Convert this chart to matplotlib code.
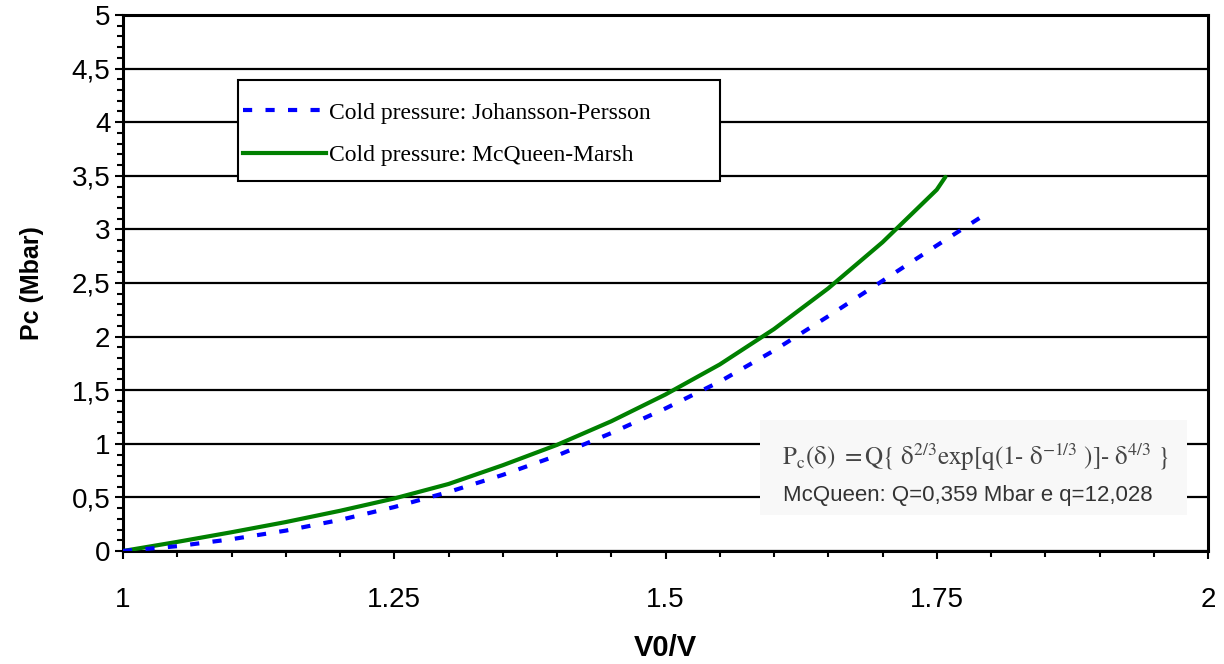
import matplotlib
matplotlib.use("Agg")
import matplotlib.pyplot as plt
from matplotlib.patches import Rectangle
from matplotlib.lines import Line2D
from matplotlib.ticker import MultipleLocator

# ---- data ----
x_mm = [1.0, 1.05, 1.10, 1.15, 1.20, 1.25, 1.30, 1.35, 1.40, 1.45, 1.50, 1.55, 1.60, 1.65, 1.70, 1.75, 1.758]
y_mm = [0.0, 0.085, 0.175, 0.27, 0.375, 0.49, 0.625, 0.80, 0.99, 1.21, 1.46, 1.74, 2.07, 2.45, 2.88, 3.37, 3.49]

x_jp = [1.0, 1.05, 1.10, 1.15, 1.20, 1.25, 1.30, 1.35, 1.40, 1.45, 1.50, 1.55, 1.60, 1.65, 1.70, 1.75, 1.79]
y_jp = [0.0, 0.045, 0.11, 0.19, 0.29, 0.41, 0.55, 0.71, 0.89, 1.10, 1.33, 1.58, 1.87, 2.19, 2.52, 2.85, 3.11]

x_ticks = [1.0, 1.25, 1.5, 1.75, 2.0]
x_ticklabels = ["1", "1.25", "1.5", "1.75", "2"]
y_ticks = [0, 0.5, 1, 1.5, 2, 2.5, 3, 3.5, 4, 4.5, 5]
y_ticklabels = ["0", "0,5", "1", "1,5", "2", "2,5", "3", "3,5", "4", "4,5", "5"]

label_jp = "Cold pressure: Johansson-Persson"
label_mm = "Cold pressure: McQueen-Marsh"

W, H = 1224, 664
L, R, T, B = 123, 1208, 15, 551

fig = plt.figure(figsize=(W / 100, H / 100), dpi=100)
ax = fig.add_axes([L / W, 1 - B / H, (R - L) / W, (B - T) / H])

ax.set_xlim(1, 2)
ax.set_ylim(0, 5)

for yv in y_ticks:
    ax.axhline(yv, color="black", lw=1.6, zorder=1)

DASH = (0, (2.2, 3.2))
ax.plot(x_mm, y_mm, color="#008000", lw=3, zorder=3, solid_capstyle="round",
        solid_joinstyle="round")
ax.plot(x_jp, y_jp, color="#0000ff", lw=3, zorder=3, linestyle=DASH)

ax.set_xticks(x_ticks)
ax.set_xticklabels(x_ticklabels, fontsize=20, fontfamily="Liberation Sans")
ax.set_yticks(y_ticks)
ax.set_yticklabels(y_ticklabels, fontsize=20, fontfamily="Liberation Sans")
ax.xaxis.set_minor_locator(MultipleLocator(0.05))
ax.yaxis.set_minor_locator(MultipleLocator(0.1))
ax.tick_params(axis="both", which="major", direction="out", length=6, width=1.5, colors="black")
ax.tick_params(axis="both", which="minor", direction="out", length=4, width=1.5)
ax.tick_params(axis="x", which="major", pad=20)
ax.tick_params(axis="y", which="major", pad=3)

for s in ax.spines.values():
    s.set_linewidth(2.2)
    s.set_color("black")

ax.set_xlabel("V0/V", fontsize=21, fontweight="bold", fontfamily="Liberation Sans", labelpad=15)
ax.set_ylabel("Pc (Mbar)", fontsize=18, fontweight="bold", fontfamily="Liberation Sans", labelpad=20)


def px2ax(px, py):
    return ((px - L) / (R - L), (B - py) / (B - T))


# legend box
x0, y1 = px2ax(238, 80)
x1, y0 = px2ax(720, 181)
ax.add_patch(Rectangle((x0, y0), x1 - x0, y1 - y0, transform=ax.transAxes,
                       facecolor="white", edgecolor="black", lw=1.5, zorder=4))
handles = [Line2D([], [], color="#0000ff", lw=3, linestyle=DASH),
           Line2D([], [], color="#008000", lw=3)]
leg_fs = 17
bp = 0.94
bp_px = bp * leg_fs * 100 / 72
hx, hy = px2ax(243 - bp_px, 80)
leg = ax.legend(handles, [label_jp, label_mm], loc="upper left",
                bbox_to_anchor=(hx, hy), frameon=False,
                prop={"family": "Liberation Serif", "size": leg_fs},
                handlelength=3.5, handletextpad=0.13, labelspacing=0.87,
                borderpad=bp, borderaxespad=0.0)
leg.set_zorder(5)

# formula box
bx0, by1 = px2ax(760, 420)
bx1, by0 = px2ax(1187, 515)
ax.add_patch(Rectangle((bx0, by0), bx1 - bx0, by1 - by0, transform=ax.transAxes,
                       facecolor="#f8f8f8", edgecolor="none", zorder=4))
fx, fy = px2ax(782, 457)
formula = (r"$\mathrm{P_c(\delta)}\ \mathrm{=Q\{}\ \mathrm{\delta}^{2/3}\mathrm{exp[q(1}\text{-}\ "
           r"\mathrm{\delta}^{-1/3}\ \mathrm{)]}\text{-}\ \mathrm{\delta}^{4/3}\ \}$")
ax.text(fx, fy, formula, transform=ax.transAxes, fontsize=18, color="#444444",
        va="center", ha="left", zorder=6, math_fontfamily="stix")
tx, ty = px2ax(783, 495)
ax.text(tx, ty, "McQueen: Q=0,359 Mbar e q=12,028", transform=ax.transAxes,
        fontsize=16, color="#333333", va="center", ha="left", zorder=6,
        fontfamily="Liberation Sans")

fig.savefig("out.png", dpi=100)
